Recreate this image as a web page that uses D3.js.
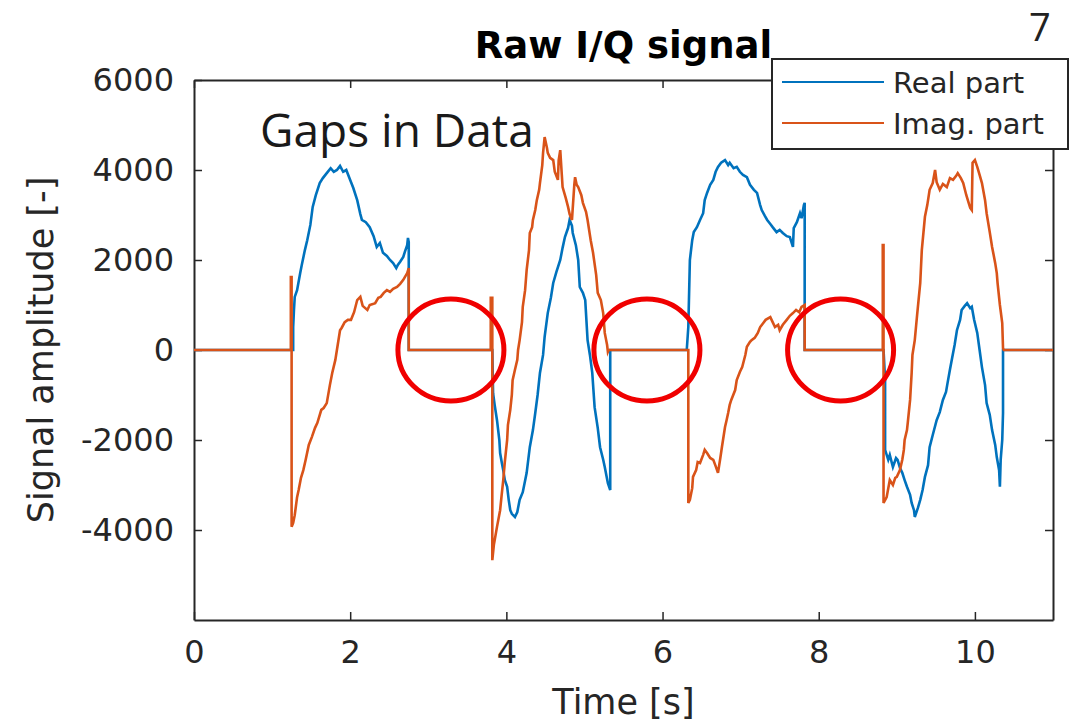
<!DOCTYPE html>
<html>
<head>
    <meta charset="utf-8">
    <title>Raw I/Q signal</title>
    <style>
        body { margin: 0; background: white; }
        svg { display: block; }
        text { fill: #262626; }
    </style>
</head>
<body>
    <script src="https://cdnjs.cloudflare.com/ajax/libs/d3/7.8.5/d3.min.js"></script>
    <script>

// [time s, amplitude]
var realPart = [
[0,0],[1.27,0],[1.27,510],[1.28,890],[1.29,1180],[1.32,1330],[1.36,1710],[1.38,1890],[1.42,2220],
[1.45,2440],[1.49,2780],[1.52,3180],[1.56,3440],[1.61,3710],[1.65,3820],[1.70,3930],[1.75,4040],
[1.79,3960],[1.83,4000],[1.87,4090],[1.91,3960],[1.95,4000],[2.00,3780],[2.04,3600],[2.09,3330],
[2.13,3020],[2.15,2890],[2.20,2840],[2.25,2730],[2.30,2530],[2.34,2290],[2.38,2380],[2.42,2160],
[2.47,2090],[2.51,2000],[2.55,1930],[2.59,1820],[2.61,1890],[2.64,1960],[2.68,2070],[2.70,2180],
[2.73,2330],[2.74,2490],[2.75,2400],[2.75,0],
[3.82,0],[3.83,-960],[3.85,-1220],[3.88,-1560],[3.91,-2000],[3.92,-2290],[3.94,-2490],[3.96,-2670],
[3.98,-2890],[4.01,-3040],[4.03,-3330],[4.05,-3560],[4.07,-3640],[4.11,-3710],[4.14,-3600],[4.17,-3330],
[4.21,-3160],[4.26,-2730],[4.30,-2160],[4.34,-1780],[4.37,-1400],[4.40,-1000],[4.43,-510],[4.47,-110],
[4.49,290],[4.53,820],[4.57,1160],[4.60,1490],[4.64,1730],[4.69,2000],[4.72,2270],[4.75,2510],
[4.79,2710],[4.81,2890],[4.84,2760],[4.85,2600],[4.89,2330],[4.92,2000],[4.94,1400],[4.98,1270],
[5.01,1110],[5.04,220],[5.07,-110],[5.10,-510],[5.13,-1270],[5.17,-1730],[5.20,-2160],[5.24,-2440],
[5.26,-2600],[5.30,-2960],[5.33,-3110],[5.33,0],
[6.31,0],[6.33,510],[6.35,2000],[6.38,2440],[6.40,2620],[6.44,2730],[6.48,2890],[6.52,3040],
[6.54,3330],[6.57,3490],[6.61,3670],[6.65,3780],[6.68,3960],[6.71,4070],[6.75,4160],[6.80,4220],
[6.84,4110],[6.86,4160],[6.91,4040],[6.95,4070],[6.99,3960],[7.03,3890],[7.08,3840],[7.12,3670],
[7.17,3560],[7.21,3490],[7.25,3220],[7.27,3110],[7.31,2980],[7.34,2890],[7.38,2800],[7.41,2730],
[7.46,2620],[7.50,2670],[7.54,2600],[7.59,2530],[7.63,2510],[7.67,2290],[7.68,2710],[7.72,2840],
[7.76,3040],[7.78,2930],[7.81,3220],[7.82,3270],[7.82,0],
[8.83,0],[8.85,-670],[8.85,-2220],[8.89,-2440],[8.91,-2330],[8.95,-2600],[8.99,-2400],[9.01,-2440],
[9.04,-2620],[9.07,-2730],[9.10,-2890],[9.13,-3040],[9.17,-3220],[9.19,-3400],[9.22,-3560],[9.23,-3710],
[9.27,-3510],[9.30,-3330],[9.33,-3110],[9.36,-2820],[9.40,-2560],[9.42,-2160],[9.46,-1890],[9.51,-1560],
[9.55,-1380],[9.59,-1110],[9.63,-930],[9.65,-730],[9.68,-440],[9.71,-160],[9.74,110],[9.77,440],
[9.81,670],[9.83,890],[9.87,980],[9.90,1040],[9.94,930],[9.96,960],[9.99,670],[10.03,380],
[10.06,0],[10.09,-380],[10.13,-780],[10.15,-1180],[10.19,-1440],[10.22,-1780],[10.26,-2110],
[10.28,-2380],[10.31,-2670],[10.32,-3040],[10.33,-2440],[10.35,-2000],[10.36,-1400],[10.36,0],[11,0]
];

var imagPart = [
[0,0],[1.24,0],[1.24,1620],[1.25,1620],[1.25,-3930],[1.27,-3840],[1.29,-3670],[1.32,-3270],
[1.34,-3110],[1.37,-2840],[1.40,-2670],[1.43,-2440],[1.47,-2110],[1.51,-1930],[1.55,-1730],[1.58,-1620],
[1.63,-1330],[1.66,-1290],[1.70,-1180],[1.74,-780],[1.77,-510],[1.81,-220],[1.83,0],[1.87,440],
[1.89,490],[1.93,620],[1.97,670],[2.01,670],[2.05,840],[2.09,1110],[2.13,1180],[2.16,980],
[2.22,890],[2.25,1000],[2.29,1020],[2.32,1040],[2.36,1160],[2.39,1180],[2.43,1270],[2.47,1330],
[2.51,1290],[2.55,1360],[2.60,1400],[2.64,1470],[2.68,1560],[2.70,1620],[2.73,1710],[2.75,1820],
[2.75,0],
[3.80,0],[3.80,1160],[3.82,1160],[3.82,-4670],[3.84,-4330],[3.88,-3930],[3.92,-3560],[3.94,-3220],
[3.96,-2890],[3.98,-2490],[4.01,-2000],[4.02,-1670],[4.05,-1330],[4.07,-1000],[4.08,-670],[4.11,-440],
[4.14,-220],[4.15,0],[4.17,220],[4.20,620],[4.21,960],[4.24,1330],[4.26,1780],[4.29,2220],
[4.30,2600],[4.33,2730],[4.34,2890],[4.37,3110],[4.39,3330],[4.42,3560],[4.43,3710],[4.46,4110],
[4.47,4380],[4.49,4730],[4.52,4490],[4.53,4380],[4.56,4270],[4.60,4220],[4.62,3960],[4.66,3780],
[4.67,4220],[4.69,4440],[4.71,3890],[4.72,3620],[4.76,3380],[4.79,3180],[4.81,3020],[4.84,2890],
[4.87,3670],[4.88,3840],[4.90,3670],[4.92,3620],[4.96,3440],[4.98,3270],[5.02,3070],[5.04,2890],
[5.08,2440],[5.11,2160],[5.15,1670],[5.17,1270],[5.21,1110],[5.24,820],[5.26,380],[5.29,110],
[5.30,-40],[5.31,0],
[6.33,0],[6.33,-3400],[6.35,-3330],[6.38,-3070],[6.39,-2820],[6.43,-2670],[6.45,-2490],[6.48,-2510],
[6.52,-2330],[6.54,-2220],[6.57,-2290],[6.61,-2400],[6.65,-2440],[6.68,-2580],[6.71,-2730],[6.74,-2400],
[6.76,-2160],[6.80,-1710],[6.82,-1560],[6.84,-1400],[6.86,-1220],[6.88,-1110],[6.93,-890],[6.95,-670],
[6.99,-490],[7.02,-380],[7.06,-110],[7.08,70],[7.12,180],[7.14,220],[7.18,270],[7.22,380],
[7.25,510],[7.29,600],[7.32,670],[7.38,730],[7.41,620],[7.44,510],[7.48,560],[7.50,440],
[7.54,560],[7.59,670],[7.63,760],[7.67,820],[7.71,890],[7.75,840],[7.78,960],[7.82,1000],[7.82,0],
[8.82,0],[8.82,2330],[8.83,2330],[8.83,-3400],[8.87,-3270],[8.91,-2890],[8.95,-3000],[8.98,-2840],
[9.00,-2820],[9.04,-2670],[9.07,-2440],[9.09,-2220],[9.10,-2000],[9.13,-1780],[9.14,-1620],[9.17,-1110],
[9.19,-510],[9.20,-110],[9.23,220],[9.26,780],[9.30,1490],[9.32,2220],[9.36,2960],[9.39,3220],
[9.40,3330],[9.42,3560],[9.46,3710],[9.49,4000],[9.51,3730],[9.55,3560],[9.59,3690],[9.64,3620],
[9.68,3820],[9.72,3780],[9.76,3870],[9.78,3930],[9.82,3820],[9.85,3710],[9.89,3440],[9.92,3270],
[9.94,3160],[9.96,3110],[9.97,4160],[10.00,4220],[10.03,4070],[10.06,3890],[10.09,3710],[10.13,3330],
[10.15,3040],[10.19,2620],[10.22,2290],[10.24,2110],[10.26,1930],[10.28,1710],[10.29,1490],[10.32,1000],
[10.35,600],[10.36,40],[10.37,0],[11,0]
];

var xTicks = [0, 2, 4, 6, 8, 10];
var yTicks = [-4000, -2000, 0, 2000, 4000, 6000];
var seriesNames = ["Real part", "Imag. part"];
var gapTimes = [3.29, 5.80, 8.28];   // circled gaps, on the zero line

var colors = ["#0072BD", "#D95319"];

var W = 1079, H = 726;
var box = {left: 194, right: 1053, top: 80, bottom: 620};

var svg = d3.select("body").append("svg")
    .attr("width", W)
    .attr("height", H)
    .style("font-family", "'DejaVu Sans', sans-serif");

var x = d3.scaleLinear().domain([0, 11]).range([box.left, box.right]);
var y = d3.scaleLinear().domain([-6000, 6000]).range([box.bottom, box.top]);

// title first, the legend is painted over its end
svg.append("text")
    .attr("x", (box.left + box.right) / 2)
    .attr("y", 58)
    .attr("text-anchor", "middle")
    .style("font-size", "37px")
    .style("font-weight", "bold")
    .style("fill", "#000")
    .text("Raw I/Q signal");

// axes, ticks inside and mirrored
var tickLen = 8;
var axisColor = "#262626";
var plain = function (d) { return String(d); };   // "-2000", no comma, ascii minus

var xAxisB = d3.axisBottom(x).tickValues(xTicks).tickFormat(plain).tickSizeInner(-tickLen).tickSizeOuter(0).tickPadding(20);
var xAxisT = d3.axisTop(x).tickValues(xTicks).tickSizeInner(-tickLen).tickSizeOuter(0).tickFormat("");
var yAxisL = d3.axisLeft(y).tickValues(yTicks).tickFormat(plain).tickSizeInner(-tickLen).tickSizeOuter(0).tickPadding(20);
var yAxisR = d3.axisRight(y).tickValues(yTicks).tickSizeInner(-tickLen).tickSizeOuter(0).tickFormat("");

function styleAxis(g) {
    g.select(".domain").attr("stroke", axisColor).attr("stroke-width", 2);
    g.selectAll(".tick line").attr("stroke", axisColor).attr("stroke-width", 1.5);
    g.selectAll(".tick text")
        .style("font-family", "'DejaVu Sans', sans-serif")
        .style("font-size", "32px")
        .attr("fill", axisColor);
}

svg.append("g").attr("transform", "translate(0," + box.bottom + ")").call(xAxisB).call(styleAxis);
svg.append("g").attr("transform", "translate(0," + box.top + ")").call(xAxisT).call(styleAxis);
svg.append("g").attr("transform", "translate(" + box.left + ",0)").call(yAxisL).call(styleAxis);
svg.append("g").attr("transform", "translate(" + box.right + ",0)").call(yAxisR).call(styleAxis);

// axis labels
svg.append("text")
    .attr("x", (box.left + box.right) / 2)
    .attr("y", 714)
    .attr("text-anchor", "middle")
    .style("font-size", "35px")
    .text("Time [s]");

svg.append("text")
    .attr("transform", "translate(53," + ((box.top + box.bottom) / 2) + ") rotate(-90)")
    .attr("text-anchor", "middle")
    .style("font-size", "35px")
    .text("Signal amplitude [-]");

// signal lines
var line = d3.line()
    .x(function (d) { return x(d[0]); })
    .y(function (d) { return y(d[1]); });

[realPart, imagPart].forEach(function (data, i) {
    svg.append("path")
        .datum(data)
        .attr("d", line)
        .attr("fill", "none")
        .attr("stroke", colors[i])
        .attr("stroke-width", 2.6)
        .attr("stroke-linejoin", "miter");
});

// legend
var lg = svg.append("g").attr("transform", "translate(772,59)");
lg.append("rect")
    .attr("width", 296).attr("height", 90)
    .attr("fill", "white")
    .attr("stroke", axisColor)
    .attr("stroke-width", 2);
seriesNames.forEach(function (name, i) {
    var ly = 23 + i * 41;
    lg.append("line")
        .attr("x1", 10).attr("x2", 112)
        .attr("y1", ly).attr("y2", ly)
        .attr("stroke", colors[i])
        .attr("stroke-width", 2);
    lg.append("text")
        .attr("x", 121).attr("y", ly + 11)
        .style("font-size", "29px")
        .text(name);
});

// annotations
svg.append("text")
    .attr("x", 260).attr("y", 147)
    .style("font-family", "'Open Sans', sans-serif")
    .style("font-size", "46px")
    .style("fill", "#1a1a1a")
    .text("Gaps in Data");

svg.append("text")
    .attr("x", 1029).attr("y", 41)
    .style("font-family", "'Open Sans', sans-serif")
    .style("font-size", "38px")
    .style("fill", "#222")
    .text("7");

svg.selectAll("ellipse.gap")
    .data(gapTimes)
    .enter().append("ellipse")
    .attr("class", "gap")
    .attr("cx", function (d) { return x(d); })
    .attr("cy", y(0))
    .attr("rx", 53)
    .attr("ry", 51)
    .attr("fill", "none")
    .attr("stroke", "#f00000")
    .attr("stroke-width", 5);

    </script>
</body>
</html>
